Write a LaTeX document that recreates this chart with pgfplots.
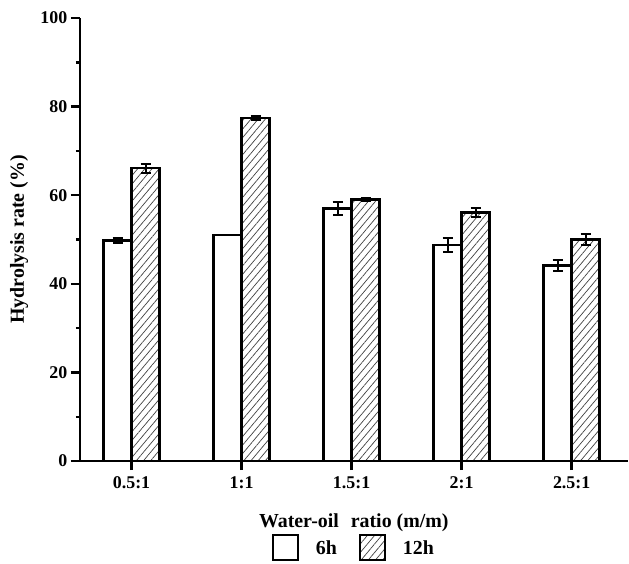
\documentclass[border=0pt]{standalone}
\usepackage{fontspec}
\setmainfont{Liberation Serif}
\usepackage{pgfplots}
\pgfplotsset{compat=1.18}
\usetikzlibrary{patterns.meta}

\begin{document}
\begin{tikzpicture}
\begin{axis}[
    scale only axis,
    width=549bp, height=444bp,
    ybar=0pt,
    bar width=0.255,
    xmin=-0.47, xmax=4.51,
    ymin=0, ymax=100,
    axis x line*=bottom,
    axis y line*=left,
    axis line style={line width=2.5bp},
    tick style={line width=2.5bp, black},
    tick align=outside,
    major tick length=9bp,
    minor tick length=4bp,
    xtick={0,1,2,3,4},
    xticklabels={0.5:1,1:1,1.5:1,2:1,2.5:1},
    ytick={0,20,40,60,80,100},
    minor ytick={10,30,50,70,90},
    /pgf/number format/assume math mode=true,
    tick label style={font=\fontsize{18}{20}\selectfont\bfseries},
    xticklabel style={yshift=-3bp},
    label style={font=\fontsize{20}{22}\selectfont\bfseries},
    xlabel={Water-oil\hspace{0.6em}ratio (m/m)},
    ylabel={Hydrolysis rate (\%)},
    xlabel style={at={(axis description cs:0.5,-0.14)}, anchor=center},
    ylabel style={at={(axis description cs:-0.111,0.5)}, anchor=center},
    legend columns=2,
    legend style={at={(axis description cs:0.5,-0.196)}, anchor=center, draw=none, fill=none,
        font=\fontsize{20}{22}\selectfont\bfseries,
        /tikz/every even column/.append style={column sep=20bp}},
    legend image code/.code={\draw[#1, line width=2bp] (0bp,-12bp) rectangle (25bp,13bp);
        \path (40bp,0bp);},
    error bars/y dir=both,
    error bars/y explicit,
    error bars/error bar style={line width=2bp, black},
    error bars/error mark options={rotate=90, mark size=5bp, line width=2bp, black},
]
\addplot[draw=black, fill=white, line width=2.5bp]
    coordinates {
    (0, 49.8) +- (0, 0.6)
    (1, 51.0) +- (0, 0.0)
    (2, 57.0) +- (0, 1.5)
    (3, 48.8) +- (0, 1.6)
    (4, 44.1) +- (0, 1.2)
};
\addlegendentry{6h}
\addplot[draw=black, line width=2.5bp,
    pattern={Lines[angle=50, distance=5.5bp, line width=0.7pt]}, pattern color=black!75]
    coordinates {
    (0, 66.1) +- (0, 1.0)
    (1, 77.4) +- (0, 0.5)
    (2, 59.0) +- (0, 0.3)
    (3, 56.1) +- (0, 1.0)
    (4, 50.0) +- (0, 1.2)
};
\addlegendentry{12h}
\coordinate (tl) at (rel axis cs:0,1);
\coordinate (bl) at (rel axis cs:0,0);
\end{axis}
\path ([yshift=18bp,xshift=-80bp]tl) ([yshift=-98bp]bl);
\end{tikzpicture}
\end{document}
